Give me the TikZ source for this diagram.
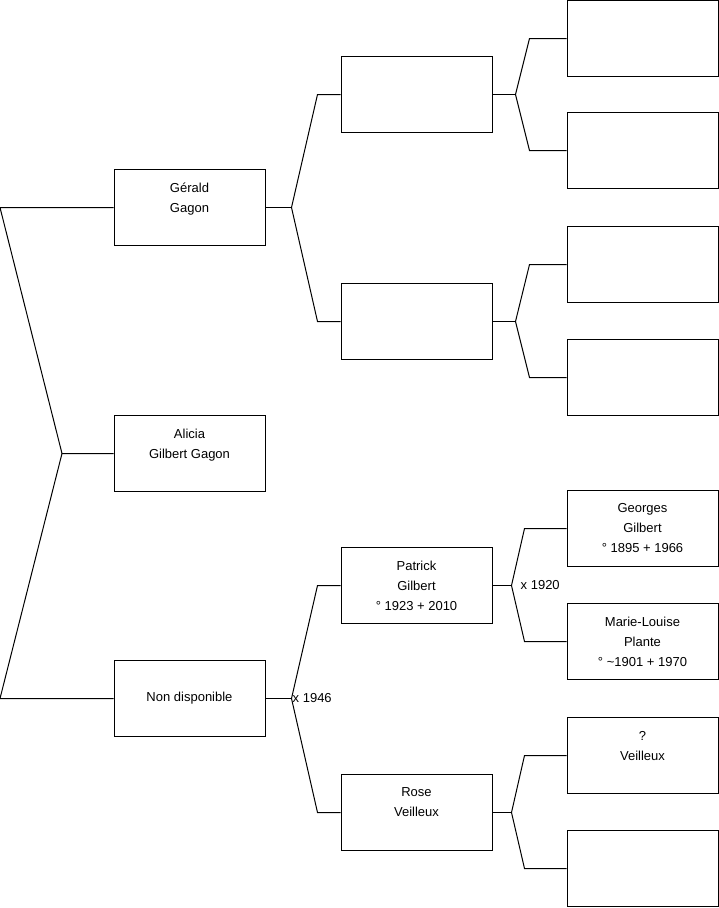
\documentclass[tikz,border=0pt]{standalone}
\usepackage{fontspec}
\setmainfont{Liberation Sans}

\begin{document}
\begin{tikzpicture}[x=1pt, y=-1pt,
      person/.style={draw, line width=1pt, minimum width=151pt,
                     minimum height=76pt, inner sep=0pt, align=center,
                     font=\fontsize{13}{20}\selectfont},
      link/.style={line width=1pt},
      wedding/.style={anchor=west, inner sep=1pt,
                      font=\fontsize{13}{16}\selectfont}]

    \useasboundingbox (0,0) rectangle (719,908);
    \coordinate (edge) at (0,0);

    % child and parents
    \node[person] (gerald)   at (189.5,207.5) {Gérald\\Gagon\\\mbox{}};
    \node[person] (alicia)   at (189.5,453.5) {Alicia\\Gilbert Gagon\\\mbox{}};
    \node[person] (nondispo) at (189.5,698.5) {Non disponible};

    % grandparents
    \node[person] (gpg1)    at (416.5,94.5)  {};
    \node[person] (gpg2)    at (416.5,321.5) {};
    \node[person] (patrick) at (416.5,585.5) {Patrick\\Gilbert\\° 1923 + 2010};
    \node[person] (rose)    at (416.5,812.5) {Rose\\Veilleux\\\mbox{}};

    % great-grandparents
    \node[person] (ggp1)     at (642.5,38.5)  {};
    \node[person] (ggp2)     at (642.5,150.5) {};
    \node[person] (ggp3)     at (642.5,264.5) {};
    \node[person] (ggp4)     at (642.5,377.5) {};
    \node[person] (georges)  at (642.5,528.5) {Georges\\Gilbert\\° 1895 + 1966};
    \node[person] (mlouise)  at (642.5,641.5) {Marie-Louise\\Plante\\° \textasciitilde1901 + 1970};
    \node[person] (qveill)   at (642.5,755.5) {?\\Veilleux\\\mbox{}};
    \node[person] (ggp8)     at (642.5,868.5) {};

    % trunk
    \coordinate (trunk) at (62,453.5);
    \draw[link] (gerald.west) -- (gerald.west -| edge) -- (trunk) -- (alicia.west);
    \draw[link] (trunk) -- (nondispo.west -| edge) -- (nondispo.west);

    % forks to grandparents
    \draw[link] (gerald.east) -- ++(26,0) coordinate (fkger);
    \draw[link] (gpg1.west) -- ++(-23,0) -- (fkger) -- ([xshift=-23pt]gpg2.west) -- (gpg2.west);
    \draw[link] (nondispo.east) -- ++(26,0) coordinate (fknd);
    \draw[link] (patrick.west) -- ++(-23,0) -- (fknd) -- ([xshift=-23pt]rose.west) -- (rose.west);
    \node[wedding] (mar1946) at (fknd) {x 1946};

    % forks to great-grandparents
    \draw[link] (gpg1.east) -- ++(23,0) coordinate (fkg1);
    \draw[link] (ggp1.west) -- ++(-37,0) -- (fkg1) -- ([xshift=-37pt]ggp2.west) -- (ggp2.west);
    \draw[link] (gpg2.east) -- ++(23,0) coordinate (fkg2);
    \draw[link] (ggp3.west) -- ++(-37,0) -- (fkg2) -- ([xshift=-37pt]ggp4.west) -- (ggp4.west);
    \draw[link] (patrick.east) -- ++(19,0) coordinate (fkpat);
    \draw[link] (georges.west) -- ++(-42,0) -- (fkpat) -- ([xshift=-42pt]mlouise.west) -- (mlouise.west);
    \draw[link] (rose.east) -- ++(19,0) coordinate (fkrose);
    \draw[link] (qveill.west) -- ++(-42,0) -- (fkrose) -- ([xshift=-42pt]ggp8.west) -- (ggp8.west);
    \node[wedding, xshift=8pt] (mar1920) at (fkpat) {x 1920};

\end{tikzpicture}
\end{document}
